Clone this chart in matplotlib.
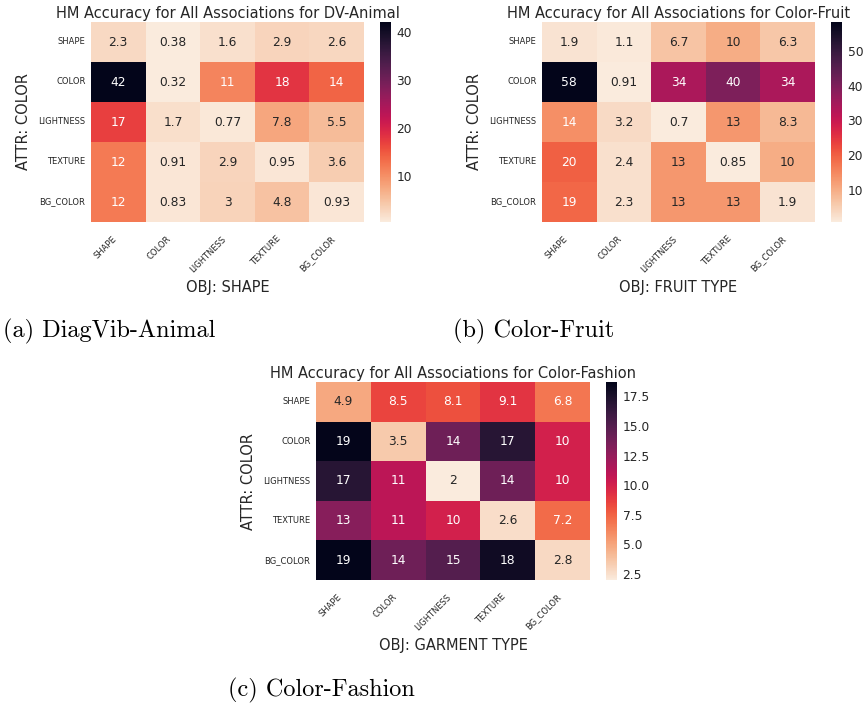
import numpy as np
import matplotlib
matplotlib.use('Agg')
import matplotlib.pyplot as plt
import seaborn as sns

# row / column labels shared by all three heatmaps
attr_labels = ['SHAPE', 'COLOR', 'LIGHTNESS', 'TEXTURE', 'BG_COLOR']
obj_labels = ['SHAPE', 'COLOR', 'LIGHTNESS', 'TEXTURE', 'BG_COLOR']

# HM accuracy values
dv_animal = [
    [2.3, 0.38, 1.6, 2.9, 2.6],
    [42.1, 0.32, 11, 18, 14],
    [17, 1.7, 0.77, 7.8, 5.5],
    [12, 0.91, 2.9, 0.95, 3.6],
    [12, 0.83, 3.0, 4.8, 0.93],
]
color_fruit = [
    [1.9, 1.1, 6.7, 10, 6.3],
    [58.4, 0.91, 34, 40, 34],
    [14, 3.2, 0.7, 13, 8.3],
    [20, 2.4, 13, 0.85, 10],
    [19, 2.3, 13, 13, 1.9],
]
color_fashion = [
    [4.9, 8.5, 8.1, 9.1, 6.8],
    [18.6, 3.5, 14, 17, 10],
    [17, 11, 2.0, 14, 10],
    [13, 11, 10, 2.6, 7.2],
    [18.7, 14, 15, 18, 2.8],
]

titles = ['HM Accuracy for All Associations for DV-Animal',
          'HM Accuracy for All Associations for Color-Fruit',
          'HM Accuracy for All Associations for Color-Fashion']
xlabels = ['OBJ: SHAPE', 'OBJ: FRUIT TYPE', 'OBJ: GARMENT TYPE']
captions = ['(a) DiagVib-Animal', '(b) Color-Fruit', '(c) Color-Fashion']

W, H = 868, 704
fig = plt.figure(figsize=(W / 100, H / 100), dpi=100)
fig.patch.set_facecolor('white')
txt = '#262626'


def px_axes(x0, y0, x1, y1):
    # pixel box (top-left origin) -> figure axes
    return fig.add_axes([x0 / W, 1 - y1 / H, (x1 - x0) / W, (y1 - y0) / H])


# heatmap box, colorbar box, caption position (pixels)
panels = [
    (dv_animal, (91, 22, 364, 222), (380, 22, 391, 222), (3, 331)),
    (color_fruit, (542, 22, 815, 222), (831, 22, 842, 222), (453, 331)),
    (color_fashion, (316, 382, 590, 580), (606, 382, 617, 580), (228, 690)),
]

for i, (data, hbox, cbox, cap) in enumerate(panels):
    ax = px_axes(*hbox)
    cax = px_axes(*cbox)
    sns.heatmap(np.array(data), ax=ax, cbar_ax=cax, cmap='rocket_r', annot=True,
                annot_kws={'fontsize': 8.8}, xticklabels=obj_labels, yticklabels=attr_labels)
    ax.tick_params(axis='y', length=0, pad=4, colors=txt)
    ax.tick_params(axis='x', length=0, pad=9, colors=txt)
    ax.set_xticklabels(obj_labels, rotation=45, ha='right', fontsize=6, color=txt)
    ax.set_yticklabels(attr_labels, rotation=0, fontsize=6, color=txt)
    ax.set_title(titles[i], fontsize=10.5, color=txt, pad=3)
    ax.set_xlabel(xlabels[i], fontsize=10.5, color=txt, labelpad=4)
    ax.set_ylabel('ATTR: COLOR', fontsize=10.5, color=txt, labelpad=5)
    cax.tick_params(length=0, labelsize=8.8, colors=txt, pad=4)
    for s in cax.spines.values():
        s.set_visible(False)
    cb = ax.collections[0].colorbar
    if cb is not None:
        cb.outline.set_visible(False)
    fig.text(cap[0] / W, 1 - cap[1] / H, captions[i], fontsize=17.5, family='cmr10',
             ha='left', va='center', color='black')

fig.savefig('out.png', dpi=100, facecolor='white')
